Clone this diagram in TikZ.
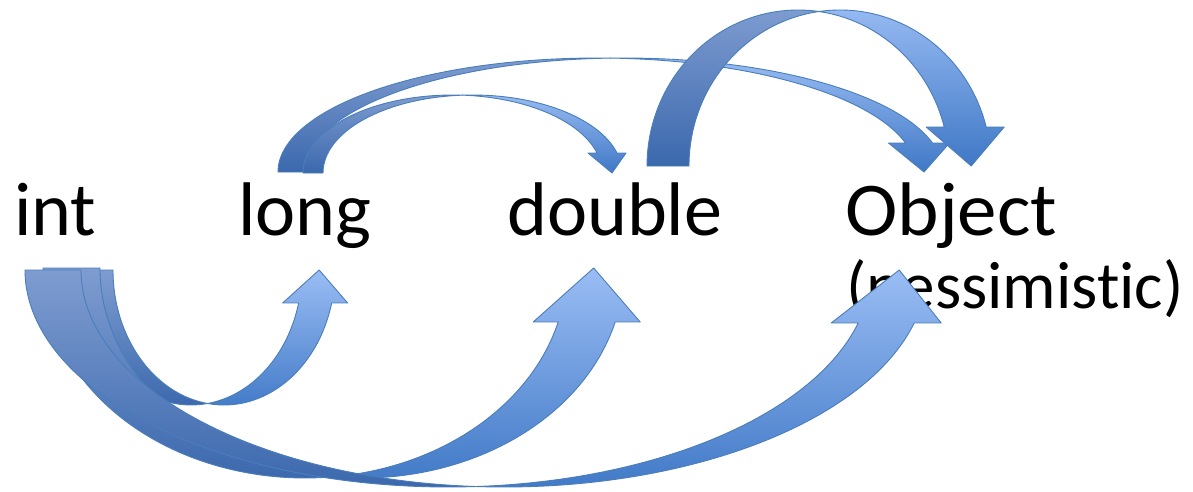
\documentclass[tikz,border=0pt]{standalone}
\usepackage{fontspec}
\setmainfont[Ligatures=NoCommon]{Carlito}
\definecolor{frtop}{HTML}{9ABDF4}
\definecolor{frbot}{HTML}{3F78C6}
\definecolor{bktop}{HTML}{7E9CD0}
\definecolor{bkbot}{HTML}{3B68AD}
\definecolor{edge}{HTML}{4A7EBB}
\tikzset{
  backpart/.style={draw=edge, line width=0.9pt, line join=round, top color=bktop, bottom color=bkbot},
  frontpart/.style={draw=edge, line width=0.9pt, line join=round, top color=frtop, bottom color=frbot},
  lbl/.style={font=\fontsize{76}{82}\selectfont, inner sep=0pt, anchor=base west},
  sublbl/.style={font=\fontsize{67}{72}\selectfont, inner sep=0pt, anchor=base west}
}
% #1 dir (1 up, -1 down), #2 cx, #3 cy (pixel row), #4 rx, #5 ry, #6 w, #7 head depth, #8 wing, #9 tip shift
\newcommand{\curvarrow}[9]{%
  \pgfmathsetmacro\cvY{491-#3}%
  \pgfmathsetmacro\cvA{acos(#6/(2*#4))}%
  \pgfmathsetmacro\cvTA{#1*(360-\cvA)}%
  \pgfmathsetmacro\cvTB{#1*(180+\cvA)}%
  \pgfmathsetmacro\cvH{#1*(360-asin(#7/#5))}%
  \pgfmathsetmacro\cvTS{#1*180}%
  \pgfmathsetmacro\cvIx{#2+#6/2}%
  \pgfmathsetmacro\cvIy{\cvY+#5*sin(\cvTA)}%
  \pgfmathsetmacro\cvSx{#2+#4*cos(\cvH)}%
  \pgfmathsetmacro\cvSy{\cvY+#5*sin(\cvH)}%
  \pgfmathsetmacro\cvSxx{\cvSx+#6}%
  \pgfmathsetmacro\cvWl{\cvSx-#8}%
  \pgfmathsetmacro\cvWr{\cvSxx+#8}%
  \pgfmathsetmacro\cvTx{\cvSx+#6/2+#9}%
  \pgfmathsetmacro\cvLx{#2-#4}%
  \coordinate (tl) at (\cvLx,\cvY);
  \coordinate (is) at (\cvIx,\cvIy);
  \coordinate (s1) at (\cvSx,\cvSy);
  \coordinate (wl) at (\cvWl,\cvSy);
  \coordinate (wr) at (\cvWr,\cvSy);
  \coordinate (tp) at (\cvTx,\cvY);
  \path[backpart] (tl) arc[start angle=\cvTS, end angle=\cvTA, x radius=#4pt, y radius=#5pt]
     arc[start angle=\cvTB, end angle=\cvTS, x radius=#4pt, y radius=#5pt] -- cycle;
  \path[frontpart] (is) arc[start angle=\cvTB, end angle=\cvH, x radius=#4pt, y radius=#5pt]
     -- (wr) -- (tp) -- (wl) -- (s1)
     arc[start angle=\cvH, end angle=\cvTA, x radius=#4pt, y radius=#5pt] -- cycle;
}
\begin{document}
\begin{tikzpicture}[x=1pt,y=1pt]
\useasboundingbox (0,0) rectangle (1193,491);
\fill[white] (0,0) rectangle (1193,491);
% labels
\node[lbl] (int) at (14,256) {int};
\node[lbl] (long) at (238,256) {long};
\node[lbl] (double) at (507,256) {double};
\node[lbl, xscale=1.04] (object) at (845,256) {Object};
\node[sublbl] (pess) at (846,183) {(pessimistic)};
% arrows from int
\curvarrow{1}{191}{270}{111}{135}{33}{33}{16}{4}
\curvarrow{1}{305}{268}{262}{210}{57}{54}{25}{7}
\curvarrow{1}{448}{270}{423}{217}{56}{53}{27}{13}
% arrows from long and double
\curvarrow{-1}{597}{172}{319}{114}{27}{29}{17}{5}
\curvarrow{-1}{452.5}{173}{149.5}{78}{20}{20}{9}{5}
\curvarrow{-1}{798}{166}{151}{156}{42}{39}{18}{6}
\end{tikzpicture}
\end{document}
